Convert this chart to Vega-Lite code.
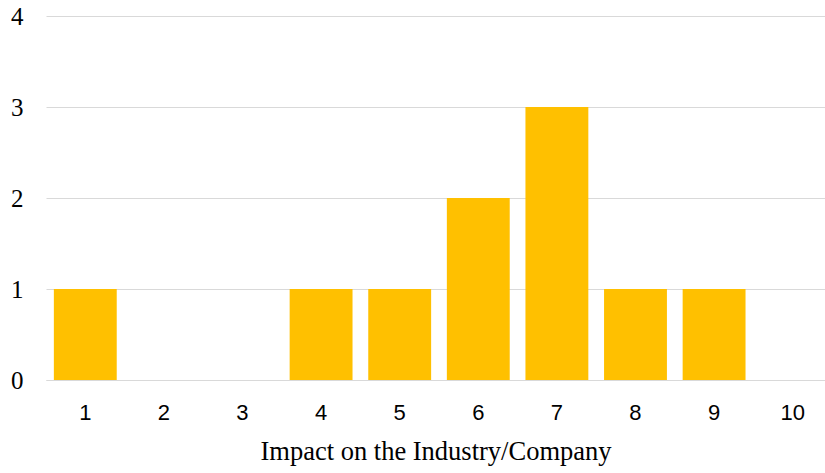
{
  "$schema": "https://vega.github.io/schema/vega-lite/v6.json",
  "autosize": {"type": "none"},
  "padding": {"left": 46, "top": 16, "right": 0, "bottom": 93},
  "width": 779,
  "height": 364,
  "background": "white",
  "config": {"view": {"stroke": null}},
  "data": {"values": [
    {"impact": "1", "count": 1},
    {"impact": "2", "count": 0},
    {"impact": "3", "count": 0},
    {"impact": "4", "count": 1},
    {"impact": "5", "count": 1},
    {"impact": "6", "count": 2},
    {"impact": "7", "count": 3},
    {"impact": "8", "count": 1},
    {"impact": "9", "count": 1},
    {"impact": "10", "count": 0}
  ]},
  "mark": {"type": "bar", "color": "#FFC000"},
  "encoding": {
    "x": {
      "field": "impact", "type": "ordinal", "sort": null,
      "scale": {"paddingInner": 0.2, "paddingOuter": 0.0555, "align": 0.9},
      "axis": {
        "title": "Impact on the Industry/Company",
        "titleFont": "Liberation Serif", "titleFontSize": 26.5, "titleFontWeight": "normal", "titleColor": "black", "titlePadding": 15,
        "labelFont": "Liberation Sans", "labelFontSize": 22, "labelColor": "black", "labelAngle": 0, "labelPadding": 22,
        "ticks": false, "domainColor": "#d9d9d9", "domainWidth": 1
      }
    },
    "y": {
      "field": "count", "type": "quantitative",
      "scale": {"domain": [0, 4]},
      "axis": {
        "title": null, "values": [0, 1, 2, 3, 4],
        "labelFont": "Liberation Serif", "labelFontSize": 25, "labelColor": "black", "labelPadding": 23,
        "ticks": false, "domain": false, "gridColor": "#d9d9d9", "gridWidth": 1
      }
    }
  }
}
